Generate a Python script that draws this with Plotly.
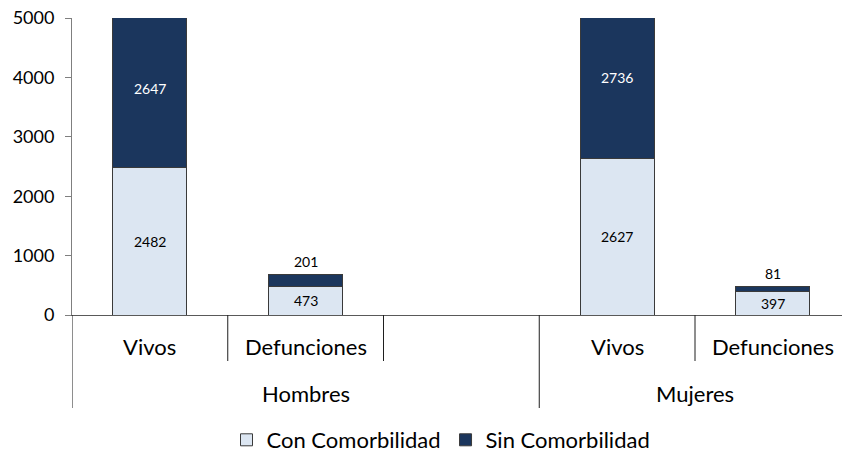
import plotly.graph_objects as go

groups = ["Hombres", "Mujeres"]
subcats = ["Vivos", "Defunciones"]
con_comorb = [2482, 473, 2627, 397]
sin_comorb = [2647, 201, 2736, 81]
series_names = ["Con Comorbilidad", "Sin Comorbilidad"]
y_ticks = [0, 1000, 2000, 3000, 4000, 5000]

FONT = "Lato"
LIGHT = "#DCE6F2"
DARK = "#1B365D"
LINE = "#3A3A3A"
SEP = "#1F1F1F"
YLINE = "#7F7F7F"

xs = []
for gi, g in enumerate(groups):
    for j, s in enumerate(subcats):
        xs.append(gi * 3 + j)

fig = go.Figure()
fig.add_trace(go.Bar(x=xs, y=con_comorb, name=series_names[0], width=0.475,
                     marker=dict(color=LIGHT, line=dict(color=LINE, width=1))))
fig.add_trace(go.Bar(x=xs, y=sin_comorb, name=series_names[1], width=0.475,
                     marker=dict(color=DARK, line=dict(color=LINE, width=1))))

annotations = []
shapes = []
for x, c, s in zip(xs, con_comorb, sin_comorb):
    annotations.append(dict(x=x, y=c / 2, xref="x", yref="y", text=str(c), showarrow=False,
                            font=dict(family=FONT, size=14, color="#000000")))
    if s > 500:
        annotations.append(dict(x=x, y=c + s / 2, xref="x", yref="y", text=str(s), showarrow=False,
                                font=dict(family=FONT, size=14, color="#FFFFFF")))
    else:
        annotations.append(dict(x=x, y=c + s, xref="x", yref="y", text=str(s), showarrow=False,
                                yanchor="bottom", yshift=3,
                                font=dict(family=FONT, size=14, color="#000000")))

# category labels and separators
y_sub = (315 - 346) / 297
y_grp = (315 - 393) / 297
y_short = (315 - 361) / 297
y_long = (315 - 408) / 297
for gi, g in enumerate(groups):
    start = gi * 3 - 0.5
    end = (gi + 1) * 3 - 0.5 if gi < len(groups) - 1 else gi * 3 + len(subcats) - 0.5
    shapes.append(dict(type="line", xref="x", yref="paper", x0=start, x1=start, y0=0, y1=y_long,
                       line=dict(color=SEP, width=1)))
    annotations.append(dict(x=(start + end) / 2, y=y_grp, xref="x", yref="paper", text=g,
                            showarrow=False, yanchor="middle",
                            font=dict(family=FONT, size=22, color="#000000")))
    for j, s in enumerate(subcats):
        x = gi * 3 + j
        annotations.append(dict(x=x, y=y_sub, xref="x", yref="paper", text=s,
                                showarrow=False, yanchor="middle",
                                font=dict(family=FONT, size=22, color="#000000")))
        shapes.append(dict(type="line", xref="x", yref="paper", x0=x + 0.5, x1=x + 0.5, y0=0, y1=y_short,
                           line=dict(color=SEP, width=1)))

fig.update_layout(
    barmode="stack",
    width=842, height=456,
    margin=dict(l=72, r=0, t=18, b=141, autoexpand=False),
    paper_bgcolor="white", plot_bgcolor="white",
    font=dict(family=FONT, color="#000000"),
    annotations=annotations,
    shapes=shapes,
    showlegend=True,
    legend=dict(orientation="h", x=(441 - 72) / 770, xanchor="center", y=(315 - 440) / 297,
                yanchor="middle", font=dict(family=FONT, size=22, color="#000000"),
                traceorder="normal", itemwidth=30),
    xaxis=dict(range=[-0.5, -0.5 + 770 / 155.75], showticklabels=False, showgrid=False,
               zeroline=False, showline=True, linecolor="#595959", linewidth=1, ticks=""),
    yaxis=dict(range=[0, 5000], tickvals=y_ticks, showgrid=False, zeroline=False,
               showline=True, linecolor=YLINE, linewidth=1, ticks="outside", ticklen=6,
               tickcolor=YLINE, ticklabelstandoff=7,
               tickfont=dict(family=FONT, size=18, color="#000000")),
)

fig.write_html("out.html", config={"displayModeBar": False},
               post_script="document.body.style.margin='0';document.body.style.padding='0';")
